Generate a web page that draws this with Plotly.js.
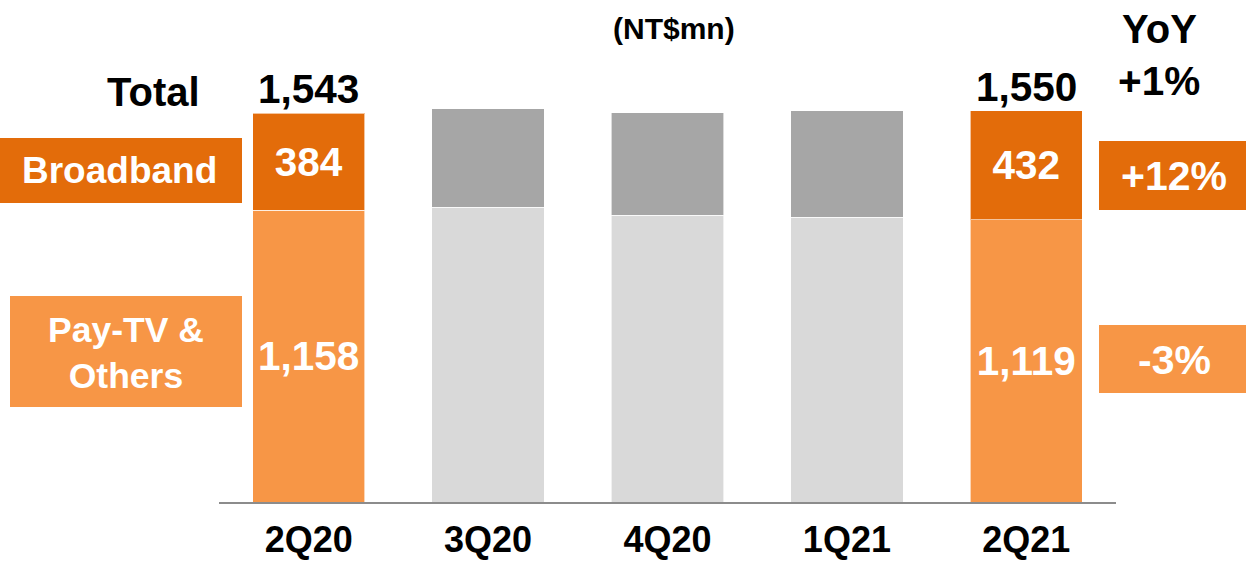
<!DOCTYPE html>
<html>
<head>
<meta charset="utf-8">
<script src="https://cdn.plot.ly/plotly-3.0.1.min.js"></script>
<style>
  html, body { margin: 0; padding: 0; background: #fff; }
  #chart { width: 1246px; height: 562px; }
</style>
</head>
<body>
<div id="chart"></div>
<script>
// ---- data ----
const quarters = ['2Q20', '3Q20', '4Q20', '1Q21', '2Q21'];
const payTV = [1158, 1169, 1138, 1129, 1119];
const broadband = [384, 391, 407, 422, 432];
const totals = [1543, 1560, 1545, 1551, 1550];
const labelledIdx = [0, 4];
const yoyTotal = '+1%';
const yoyBroadband = '+12%';
const yoyPayTV = '-3%';
const unitLabel = '(NT$mn)';

// ---- styles ----
const DARK_OR = '#E36C0A';
const LIGHT_OR = '#F79646';
const DARK_GR = '#A6A6A6';
const LIGHT_GR = '#D9D9D9';
const FONT = 'Liberation Sans, Arial, sans-serif';

const W = 1246, H = 562;
const M = {l: 219, r: 130, t: 60, b: 60};
const PW = W - M.l - M.r, PH = H - M.t - M.b;
const px = x => (x - M.l) / PW;
const py = y => (H - M.b - y) / PH;

const fmt = v => v.toLocaleString('en-US');
const isLab = i => labelledIdx.includes(i);

const traces = [
  {
    type: 'bar', name: 'Pay-TV & Others', x: quarters, y: payTV,
    marker: {color: quarters.map((q, i) => isLab(i) ? LIGHT_OR : LIGHT_GR),
             line: {color: 'rgba(255,255,255,0.6)', width: 1}},
    text: payTV.map((v, i) => isLab(i) ? fmt(v) : ''),
    textposition: 'inside', insidetextanchor: 'middle', constraintext: 'none',
    textfont: {family: FONT, size: 40.5, color: '#fff', weight: 700},
    width: 0.626, hoverinfo: 'none'
  },
  {
    type: 'bar', name: 'Broadband', x: quarters, y: broadband,
    marker: {color: quarters.map((q, i) => isLab(i) ? DARK_OR : DARK_GR),
             line: {color: 'rgba(255,255,255,0.6)', width: 1}},
    text: broadband.map((v, i) => isLab(i) ? fmt(v) : ''),
    textposition: 'inside', insidetextanchor: 'middle', constraintext: 'none',
    textfont: {family: FONT, size: 40.5, color: '#fff', weight: 700},
    width: 0.626, hoverinfo: 'none'
  }
];

const ann = (text, x, y, size, color, opts) => Object.assign({
  text: text, xref: 'paper', yref: 'paper', x: px(x), y: py(y),
  xanchor: 'center', yanchor: 'middle', showarrow: false,
  font: {family: FONT, size: size, color: color, weight: 700}
}, opts || {});

const annotations = [
  ann('Total', 202, 92, 40, '#000', {xanchor: 'right'}),
  ann(unitLabel, 674, 28, 30, '#000'),
  ann('YoY', 1159, 29, 40, '#000'),
  ann(yoyTotal, 1159, 81, 40.5, '#000'),
  ann('Broadband', 119, 170, 37, '#fff'),
  ann('Pay-TV &<br>Others', 126, 353, 35.5, '#fff'),
  ann(yoyBroadband, 1174, 176, 41, '#fff'),
  ann(yoyPayTV, 1174, 360, 41, '#fff')
];
labelledIdx.forEach(i => {
  annotations.push({
    text: fmt(totals[i]), x: quarters[i], y: broadband[i] + payTV[i],
    xref: 'x', yref: 'y', xanchor: 'center', yanchor: 'middle', yshift: 24,
    showarrow: false, font: {family: FONT, size: 40.5, color: '#000', weight: 700}
  });
});

const box = (x0, y0, x1, y1, color) => ({
  type: 'rect', xref: 'paper', yref: 'paper', layer: 'below',
  x0: px(x0), x1: px(x1), y0: py(y1), y1: py(y0),
  fillcolor: color, line: {width: 0}
});

const shapes = [
  box(0, 138, 242, 203, DARK_OR),
  box(10, 296, 242, 407, LIGHT_OR),
  box(1099, 141, 1246, 210, DARK_OR),
  box(1099, 325, 1246, 393, LIGHT_OR)
];

const layout = {
  width: W, height: H, margin: M,
  paper_bgcolor: '#fff', plot_bgcolor: '#fff',
  barmode: 'stack', showlegend: false,
  xaxis: {
    type: 'category', range: [-0.5, 4.5], showline: true, linecolor: '#8C8C8C',
    linewidth: 2, ticks: '', showgrid: false, zeroline: false,
    tickfont: {family: FONT, size: 36, color: '#000', weight: 700},
    ticklabelstandoff: 5,
    fixedrange: true
  },
  yaxis: {
    range: [0, PH / 0.2521], visible: false, showgrid: false, zeroline: false,
    fixedrange: true
  },
  annotations: annotations,
  shapes: shapes
};

Plotly.newPlot('chart', traces, layout, {staticPlot: true, displayModeBar: false});
</script>
</body>
</html>
